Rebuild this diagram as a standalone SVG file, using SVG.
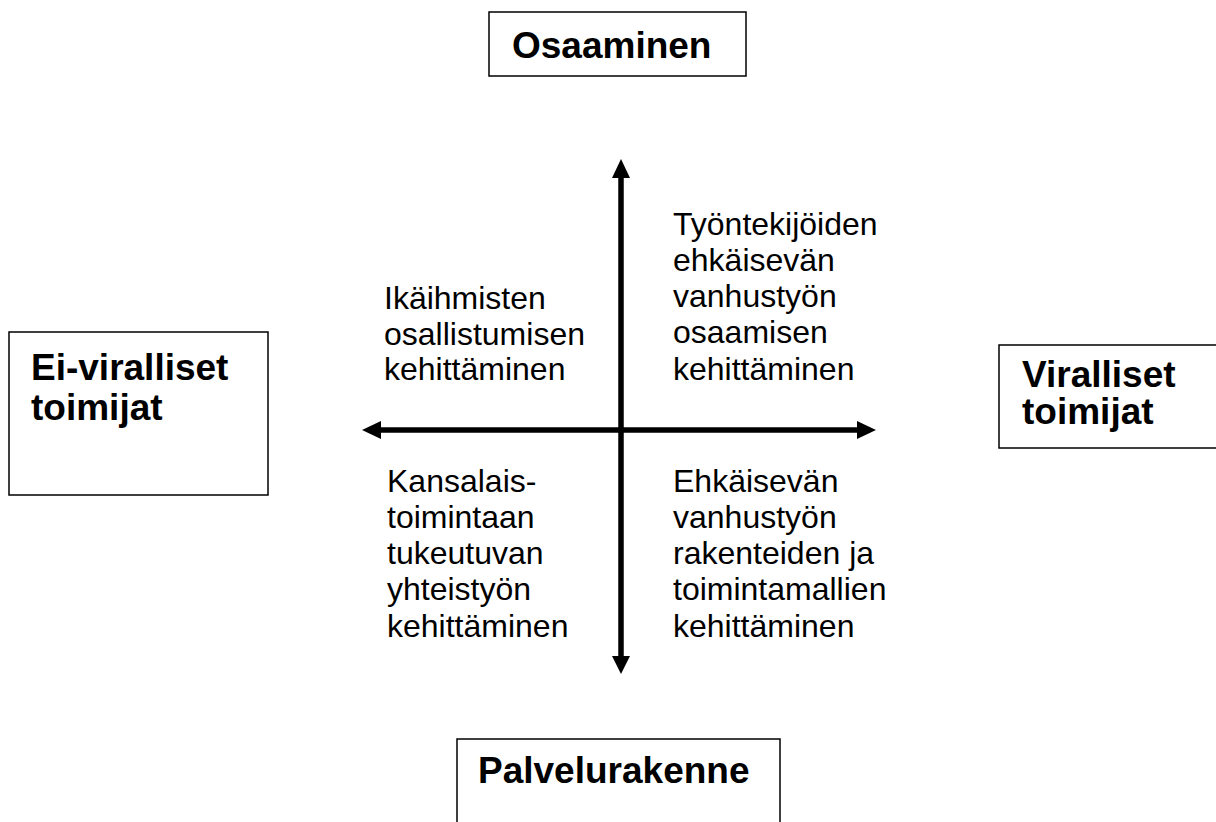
<svg xmlns="http://www.w3.org/2000/svg" width="1216" height="822" viewBox="0 0 1216 822">
<style>
.box{fill:#fff;stroke:#000;stroke-width:1.5}
.lbl{font-family:"Liberation Sans",Arial,sans-serif;font-weight:bold;font-size:37px;fill:#000}
.txt{font-family:"Liberation Sans",Arial,sans-serif;font-size:32px;fill:#000}
.shaft{stroke:#000;stroke-width:5.5;fill:none}
.head{fill:#000}
</style>
<rect width="1216" height="822" fill="#fff"/>
<g id="connectors">
<line class="shaft" x1="621" y1="175" x2="621" y2="659"/>
<polygon class="head" points="621,159 612,178 630,178"/>
<polygon class="head" points="621,674 612,656 630,656"/>
<line class="shaft" x1="378" y1="430" x2="860" y2="430"/>
<polygon class="head" points="362,430 381,421 381,439"/>
<polygon class="head" points="876,430 857,421 857,439"/>
</g>
<g id="osaaminen">
<rect class="box" x="489" y="12" width="257" height="64"/>
<text class="lbl" x="512" y="58">Osaaminen</text>
</g>
<g id="ei-viralliset">
<rect class="box" x="9" y="332" width="259" height="163"/>
<text class="lbl" x="31" y="380">Ei-viralliset</text>
<text class="lbl" x="31" y="420">toimijat</text>
</g>
<g id="viralliset">
<rect class="box" x="999" y="345" width="260" height="103"/>
<text class="lbl" x="1022" y="387">Viralliset</text>
<text class="lbl" x="1022" y="424">toimijat</text>
</g>
<g id="palvelurakenne">
<rect class="box" x="457" y="739" width="323" height="100"/>
<text class="lbl" x="478" y="783">Palvelurakenne</text>
</g>
<g id="q-top-left">
<text class="txt" x="384" y="309">Ikäihmisten</text>
<text class="txt" x="384" y="345">osallistumisen</text>
<text class="txt" x="384" y="380">kehittäminen</text>
</g>
<g id="q-top-right">
<text class="txt" x="673" y="235">Työntekijöiden</text>
<text class="txt" x="673" y="271">ehkäisevän</text>
<text class="txt" x="673" y="307">vanhustyön</text>
<text class="txt" x="673" y="343">osaamisen</text>
<text class="txt" x="673" y="380">kehittäminen</text>
</g>
<g id="q-bottom-left">
<text class="txt" x="387" y="492">Kansalais-</text>
<text class="txt" x="387" y="528">toimintaan</text>
<text class="txt" x="387" y="564">tukeutuvan</text>
<text class="txt" x="387" y="600">yhteistyön</text>
<text class="txt" x="387" y="637">kehittäminen</text>
</g>
<g id="q-bottom-right">
<text class="txt" x="673" y="492">Ehkäisevän</text>
<text class="txt" x="673" y="528">vanhustyön</text>
<text class="txt" x="673" y="564">rakenteiden ja</text>
<text class="txt" x="673" y="600">toimintamallien</text>
<text class="txt" x="673" y="637">kehittäminen</text>
</g>
</svg>
